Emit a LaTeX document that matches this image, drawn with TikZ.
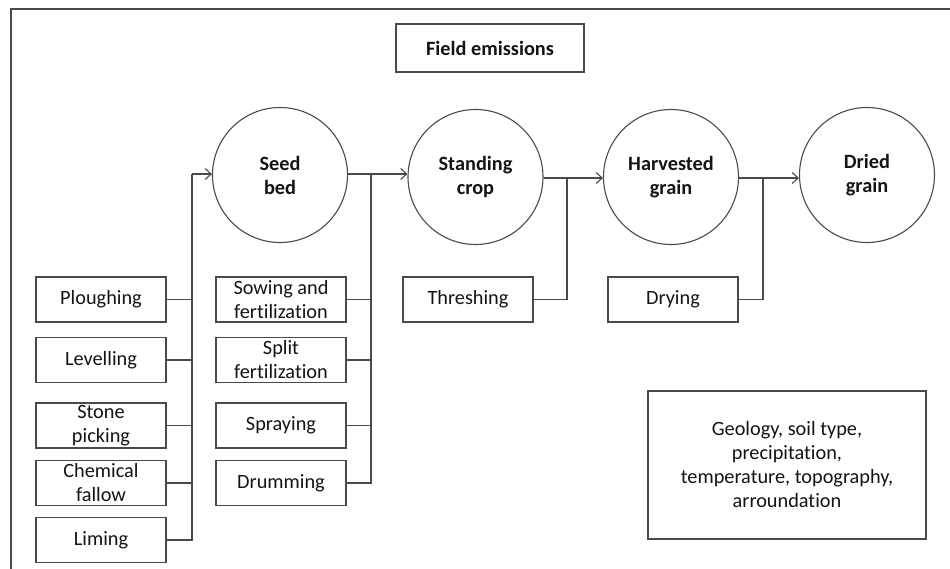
\documentclass[tikz,border=0pt]{standalone}
\usepackage{fontspec}
\setmainfont{Carlito}[Ligatures=NoCommon]
\usetikzlibrary{arrows.meta}
\definecolor{linegray}{HTML}{4A4A4A}
\definecolor{inkblack}{HTML}{141414}
\begin{document}
\begin{tikzpicture}[x=1pt,y=-1pt,
  every node/.style={text=inkblack,font=\fontsize{20.3}{24}\selectfont},
  line/.style={draw=linegray,line width=1.1pt},
  stage/.style={circle,line,minimum size=135pt,inner sep=0pt,align=center,font=\fontsize{20.3}{24}\selectfont\bfseries},
  task/.style={rectangle,line,minimum width=130pt,minimum height=45pt,inner sep=0pt,align=center},
  flow/.style={line,-{Straight Barb[length=6pt,width=11pt,line width=1.1pt]}},
  link/.style={line}]
\useasboundingbox (0,0) rectangle (950,568);
\fill[white] (0,0) rectangle (950,568);
% outer frame, continuing past the right and bottom edges
\draw[line] (11,590) -- (11,9) -- (980,9);

% title box
\node[rectangle,line,minimum width=188pt,minimum height=48pt,font=\fontsize{20.3}{24}\selectfont\bfseries] (title) at (490,48) {Field emissions};

% crop stages
\node[stage] (seed) at (280,175) {Seed\\bed};
\node[stage] (stand) at (475.5,177) {Standing\\crop};
\node[stage] (harv) at (671,177) {Harvested\\grain};
\node[stage] (dried) at (867,175) {Dried\\grain};

% operations before the seed bed
\node[task] (plough) at (101,299.5) {Ploughing};
\node[task] (level) at (101,360) {Levelling};
\node[task] (stone) at (101,425.5) {Stone\\picking};
\node[task] (chem) at (101,483) {Chemical\\fallow};
\node[task] (lime) at (101,540) {Liming};

% operations on the seed bed
\node[task] (sow) at (281,299.5) {Sowing and\\fertilization};
\node[task] (split) at (281,360) {Split\\fertilization};
\node[task] (spray) at (281,425.5) {Spraying};
\node[task] (drum) at (281,483) {Drumming};

% harvest and drying
\node[task] (thresh) at (468,299.5) {Threshing};
\node[task] (dry) at (673,299.5) {Drying};

% site conditions
\node[rectangle,line,minimum width=278pt,minimum height=148pt,inner sep=0pt,align=center] (site) at (787,465) {Geology, soil type,\\precipitation,\\temperature, topography,\\arroundation};

% junction points of the bus lines
\coordinate (ja) at (192,174);
\coordinate (jb) at (371,174);
\coordinate (jc) at (567,178);
\coordinate (jd) at (763,178);

% bus into the seed bed
\draw[link] (lime.east) -| (ja);
\foreach \n in {plough,level,stone,chem} \draw[link] (\n.east) -- (\n.east -| ja);
\draw[flow] (ja) -- (seed.west |- ja);

% bus into the standing crop
\draw[link] (seed.east |- jb) -- (jb);
\draw[link] (drum.east) -| (jb);
\foreach \n in {sow,split,spray} \draw[link] (\n.east) -- (\n.east -| jb);
\draw[flow] (jb) -- (stand.west |- jb);

% threshing into the harvested grain
\draw[link] (stand.east |- jc) -- (jc);
\draw[link] (thresh.east) -| (jc);
\draw[flow] (jc) -- (harv.west |- jc);

% drying into the dried grain
\draw[link] (harv.east |- jd) -- (jd);
\draw[link] (dry.east) -| (jd);
\draw[flow] (jd) -- (dried.west |- jd);
\end{tikzpicture}
\end{document}
